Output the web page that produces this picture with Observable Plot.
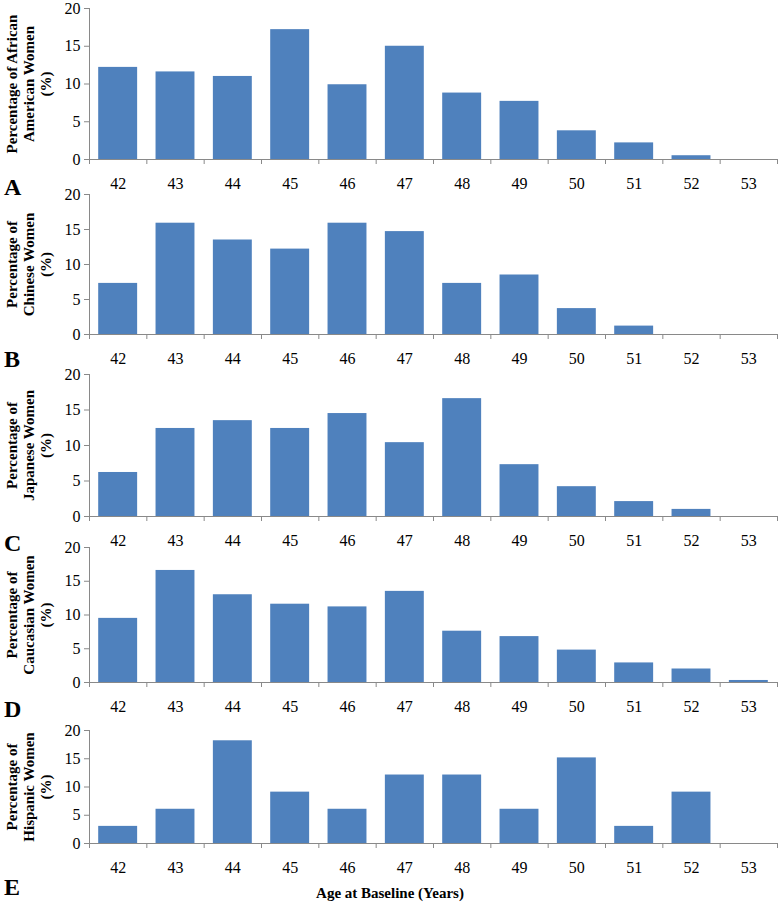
<!DOCTYPE html>
<html>
<head>
<meta charset="utf-8">
<script src="https://cdn.jsdelivr.net/npm/d3@7"></script>
<script src="https://cdn.jsdelivr.net/npm/@observablehq/plot@0.6"></script>
<style>
  body { margin: 0; background: #fff; }
  #root { position: relative; width: 778px; height: 904px; overflow: hidden;
          font-family: "Liberation Serif", serif; color: #000; }
  #root svg, #root svg text, #root svg tspan { font-family: "Liberation Serif", serif !important; }
  .panel { position: absolute; left: 0; }
  .letter { position: absolute; left: 4px; font-weight: bold; font-size: 24px; line-height: 1; }
  #xtitle { position: absolute; left: 0; width: 780px; text-align: center; font-weight: bold;
            font-size: 15px; line-height: 1; }
</style>
</head>
<body>
<div id="root"></div>
<script>
// ---- data ----
const ages = [42, 43, 44, 45, 46, 47, 48, 49, 50, 51, 52, 53];
const africanAmerican = [12.2, 11.6, 11.0, 17.2, 9.9, 15.0, 8.8, 7.7, 3.8, 2.2, 0.5, 0];
const chinese         = [7.3, 15.9, 13.5, 12.2, 15.9, 14.7, 7.3, 8.5, 3.7, 1.2, 0, 0];
const japanese        = [6.2, 12.4, 13.5, 12.4, 14.5, 10.4, 16.6, 7.3, 4.2, 2.1, 1.0, 0];
const caucasian       = [9.5, 16.6, 13.0, 11.6, 11.2, 13.5, 7.6, 6.8, 4.8, 2.9, 2.0, 0.3];
const hispanic        = [3.03, 6.06, 18.18, 9.09, 6.06, 12.12, 12.12, 6.06, 15.15, 3.03, 9.09, 0];
const yTicks = [0, 5, 10, 15, 20];
const panelLetters = ["A", "B", "C", "D", "E"];
const yTitles = [
  "Percentage of African\nAmerican Women\n(%)",
  "Percentage of\nChinese Women\n(%)",
  "Percentage of\nJapanese Women\n(%)",
  "Percentage of\nCaucasian Women\n(%)",
  "Percentage of\nHispanic Women\n(%)"
];
const xTitle = "Age at Baseline (Years)";
const series = [africanAmerican, chinese, japanese, caucasian, hispanic];

// ---- layout (pixel positions of each panel's plot area) ----
const layout = [
  {top: 8,   bottom: 159, letterTop: 175},
  {top: 194, bottom: 334, letterTop: 347},
  {top: 374, bottom: 516, letterTop: 531},
  {top: 547, bottom: 682, letterTop: 697},
  {top: 730, bottom: 843, letterTop: 875}
];

const root = document.getElementById("root");
const boundaries = ages.map(a => a - 0.5).concat([ages[ages.length - 1] + 0.5]);
const axisColor = "#898989";
const barColor = "#4F81BD";
const mT = 10, mB = 40;

series.forEach((values, k) => {
  const L = layout[k];
  const data = ages.map((age, i) => ({age, pct: values[i]}));
  const chart = Plot.plot({
    width: 778,
    height: (L.bottom - L.top) + mT + mB,
    marginTop: mT, marginBottom: mB, marginLeft: 89, marginRight: 1,
    style: {fontFamily: "Liberation Serif, serif", fontSize: "16px", background: "transparent", color: "#000"},
    x: {type: "linear", domain: [boundaries[0], boundaries[boundaries.length - 1]]},
    y: {domain: [0, 20]},
    marks: [
      Plot.rectY(data, {x1: d => d.age - 0.5, x2: d => d.age + 0.5, y: "pct", fill: barColor, insetLeft: 9.2, insetRight: 9.2}),
      Plot.ruleY([0], {stroke: axisColor}),
      Plot.ruleX([boundaries[0]], {y1: 0, y2: 20, stroke: axisColor}),
      Plot.axisX({ticks: ages, tickSize: 0, tickPadding: 18, tickFormat: d => String(d), label: null}),
      Plot.axisX({ticks: boundaries, tickSize: 5, tickFormat: () => "", stroke: axisColor, label: null}),
      Plot.axisY({ticks: yTicks, tickSize: 5, tickPadding: 4, stroke: axisColor, label: null}),
      Plot.text([yTitles[k]], {frameAnchor: "left", rotate: -90, dx: -61, textAnchor: "middle", lineAnchor: "middle",
        lineHeight: 1.13, fontWeight: "bold", fontSize: 15, fill: "#000"})
    ]
  });
  const div = document.createElement("div");
  div.className = "panel";
  div.style.top = (L.top - mT) + "px";
  div.appendChild(chart);
  root.appendChild(div);

  const letter = document.createElement("div");
  letter.className = "letter";
  letter.style.top = L.letterTop + "px";
  letter.textContent = panelLetters[k];
  root.appendChild(letter);
});

const xt = document.createElement("div");
xt.id = "xtitle";
xt.style.top = "886px";
xt.textContent = xTitle;
root.appendChild(xt);
</script>
</body>
</html>
